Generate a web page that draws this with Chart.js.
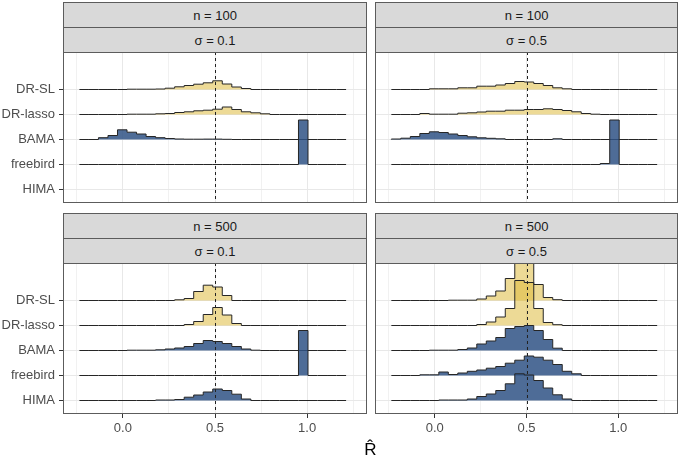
<!DOCTYPE html>
<html><head><meta charset="utf-8">
<script src="https://cdn.jsdelivr.net/npm/chart.js@4.4.0/dist/chart.umd.min.js"></script>
<style>
body{margin:0;background:#fff;width:679px;height:460px;position:relative;overflow:hidden;font-family:'Liberation Sans',Arial,sans-serif}
.strip{position:absolute;background:#D9D9D9;border:1px solid #5c5c5c;box-sizing:border-box;color:#1A1A1A;font-size:13px;display:flex;align-items:center;justify-content:center}
canvas{position:absolute}
#xtitle{position:absolute;left:63px;width:615px;top:440px;text-align:center;font-size:17px;color:#000}
</style></head><body>
<canvas id="c0" width="370" height="190" style="left:0;top:40px"></canvas>
<canvas id="c1" width="309" height="190" style="left:370px;top:40px"></canvas>
<canvas id="c2" width="370" height="209" style="left:0;top:251px"></canvas>
<canvas id="c3" width="309" height="209" style="left:370px;top:251px"></canvas>
<div id="strips"></div>
<div id="xtitle">R̂</div>
<script>
// ---------- data ----------
const methods = ['HIMA', 'freebird', 'BAMA', 'DR-lasso', 'DR-SL']; // bottom -> top
const sampleSizeLabels = ['n = 100', 'n = 100', 'n = 500', 'n = 500'];
const sigmaLabels = ['σ = 0.1', 'σ = 0.5', 'σ = 0.1', 'σ = 0.5'];
const xMajorTicks = [0, 0.5, 1.0];
const xTickLabels = ['0.0', '0.5', '1.0'];
const xMinorTicks = [-0.25, 0.25, 0.75, 1.25];
const refValue = 0.5;
const binStart = -0.236;
const binWidth = 0.0517;
const heightScale = 0.04;

// histogram heights per bin (28 bins)
const n100_s01_DRSL     = [0,0,0,0,0,0.3,0.3,0.3,0.5,1.3,2.7,4,5.3,6.7,8.7,5.5,2.5,1,0,0,0,0,0,0,0,0,0,0];
const n100_s01_DRlasso  = [0,0,0,0,0,0.3,0.3,0.3,0.7,1,2,2.7,3.7,4.3,5.3,7.5,5,2.7,1.7,0.7,0,0,0,0,0,0,0,0];
const n100_s01_BAMA     = [0,0,1.8,4,9.7,7.3,5.5,3,1.8,1,0.5,0.3,0.3,0.4,0.4,0.2,0,0,0,0,0,0,0,0,0,0,0,0];
const n100_s01_freebird = [0,0,0,0,0,0,0,0,0,0,0,0,0,0,0,0,0,0,0,0,0,0,0,44.5,0,0,0,0];

const n100_s05_DRSL     = [0,0,0,0,0.7,0.7,0.7,1.7,1.7,3.3,3.3,4.5,6,8,7.5,6,4,1.7,0.7,0,0,0,0,0,0,0,0,0];
const n100_s05_DRlasso  = [0,0,0,1,0.3,0.3,0.3,1.3,1.7,2.5,3.3,3.3,4.3,4.3,5,5,5.7,5,4,2.7,1,0.3,0,0,0,0,0,0];
const n100_s05_BAMA     = [0.5,1.3,3,6,7.7,7,5.5,4,2.7,1.7,1.2,0.7,0,0,0,0,0,0.7,0,0,0,0,0,0,0,0,0,0];
const n100_s05_freebird = [0,0,0,0,0,0,0,0,0,0,0,0,0,0,0,0,0,0,0,0,0,0,1,44.5,0,0,0,0];

const n500_s01_DRSL     = [0,0,0,0,0,0,0,0,0,0,0.7,2,9,15.3,13.5,5,0,0,0,0,0,0,0,0,0,0,0,0];
const n500_s01_DRlasso  = [0,0,0,0,0,0,0,0,0,0,0,1,4,11,18,10.5,2,0,0,0,0,0,0,0,0,0,0,0];
const n500_s01_BAMA     = [0,0,0,0,0,0.3,0.3,0.3,0.7,1.5,2.5,4,7,10,9,7,4,1.5,0.3,0,0,0,0,0,0,0,0,0];
const n500_s01_freebird = [0,0,0,0,0,0,0,0,0,0,0,0,0,0,0,0,0,0,0,0,0,0,0,45,0,0,0,0];
const n500_s01_HIMA     = [0,0,0,0,0,0,0,0,0.5,0.5,1,3.3,5.5,8.5,11.5,10,6.3,1.5,0,0,0,0,0,0,0,0,0,0];

const n500_s05_DRSL     = [0,0,0,0,0,0,0.3,0.3,0.3,1.5,4.5,9.5,22,37.5,37.5,16,3,0.8,0,0,0,0,0,0,0,0,0,0];
const n500_s05_DRlasso  = [0,0,0,0,0,0,0,0,0,1,3.5,8.5,17,45,43,17,3,0.8,0,0,0,0,0,0,0,0,0,0];
const n500_s05_BAMA     = [0,0,0,0,0.3,0.3,0.3,1,2.5,6.5,9.5,13,22,24,25,20,11,2.3,0,0,0,0,0,0,0,0,0,0];
const n500_s05_freebird = [0,0,0,0.7,0.7,3.5,1,2.5,4.2,5.5,7.3,9,12.3,15.3,19.5,18.3,15.3,11,4.2,1.7,0,0,0,0,0,0,0,0];
const n500_s05_HIMA     = [0,0,0,0,0,0.5,0.5,0.5,1.5,4,6.5,10,16.7,26.7,25.5,20,12.5,5.7,1.5,0,0,0,0,0,0,0,0,0];

const panelSeries = [
  {HIMA: null, freebird: n100_s01_freebird, BAMA: n100_s01_BAMA, 'DR-lasso': n100_s01_DRlasso, 'DR-SL': n100_s01_DRSL},
  {HIMA: null, freebird: n100_s05_freebird, BAMA: n100_s05_BAMA, 'DR-lasso': n100_s05_DRlasso, 'DR-SL': n100_s05_DRSL},
  {HIMA: n500_s01_HIMA, freebird: n500_s01_freebird, BAMA: n500_s01_BAMA, 'DR-lasso': n500_s01_DRlasso, 'DR-SL': n500_s01_DRSL},
  {HIMA: n500_s05_HIMA, freebird: n500_s05_freebird, BAMA: n500_s05_BAMA, 'DR-lasso': n500_s05_DRlasso, 'DR-SL': n500_s05_DRSL}
];

// ---------- style / layout ----------
const yellowFill = 'rgba(222,188,64,0.55)';
const blueFill = 'rgba(47,82,133,0.85)';
const methodFill = {'HIMA': blueFill, 'freebird': blueFill, 'BAMA': blueFill, 'DR-lasso': yellowFill, 'DR-SL': yellowFill};
const FONT = "'Liberation Sans', Arial, sans-serif";

// target plot areas in canvas coordinates
const targetAreas = [
  {left: 63, top: 12, right: 367, bottom: 163},
  {left: 5, top: 12, right: 308, bottom: 163},
  {left: 63, top: 12, right: 367, bottom: 163},
  {left: 5, top: 12, right: 308, bottom: 163}
];

const stripBoxes = [
  {left: 63, width: 304, top: 2},
  {left: 375, width: 303, top: 2},
  {left: 63, width: 304, top: 213},
  {left: 375, width: 303, top: 213}
];
const stripsDiv = document.getElementById('strips');
stripBoxes.forEach((b, i) => {
  const s1 = document.createElement('div');
  s1.className = 'strip';
  s1.style.cssText = `left:${b.left}px;top:${b.top}px;width:${b.width}px;height:26px`;
  s1.textContent = sampleSizeLabels[i];
  const s2 = document.createElement('div');
  s2.className = 'strip';
  s2.style.cssText = `left:${b.left}px;top:${b.top + 25}px;width:${b.width}px;height:26px`;
  s2.textContent = sigmaLabels[i];
  stripsDiv.appendChild(s1);
  stripsDiv.appendChild(s2);
});

function ridgeDataset(name, heights) {
  const base = methods.indexOf(name) + 1;
  const pts = [{x: binStart, y: base}];
  for (let k = 0; k < heights.length; k++) {
    pts.push({x: binStart + k * binWidth, y: base + heights[k] * heightScale});
  }
  pts.push({x: binStart + heights.length * binWidth, y: base});
  return {
    label: name,
    data: pts,
    stepped: 'before',
    borderColor: '#262626',
    borderWidth: 1,
    backgroundColor: methodFill[name],
    fill: {value: base},
    pointRadius: 0,
    borderJoinStyle: 'miter',
    tension: 0
  };
}

const overlayPlugin = {
  id: 'overlay',
  afterDatasetsDraw(chart) {
    const {ctx, chartArea: a, scales} = chart;
    const x = Math.round(scales.x.getPixelForValue(refValue)) + 0.5;
    ctx.save();
    ctx.strokeStyle = '#222';
    ctx.lineWidth = 1;
    ctx.setLineDash([3, 3]);
    ctx.beginPath();
    ctx.moveTo(x, a.top);
    ctx.lineTo(x, a.bottom);
    ctx.stroke();
    ctx.restore();
  },
  afterDraw(chart) {
    const {ctx, chartArea: a} = chart;
    ctx.save();
    ctx.strokeStyle = '#5c5c5c';
    ctx.lineWidth = 1;
    ctx.strokeRect(a.left + 0.5, a.top + 0.5, a.right - a.left - 1, a.bottom - a.top - 1);
    ctx.restore();
  }
};

const allXTicks = [...xMinorTicks, ...xMajorTicks].sort((p, q) => p - q);

function fitArea(chart, t) {
  for (let it = 0; it < 6; it++) {
    const a = chart.chartArea;
    const p = chart.options.layout.padding;
    const dl = t.left - a.left, dt = t.top - a.top, dr = a.right - t.right, db = a.bottom - t.bottom;
    if (Math.abs(dl) + Math.abs(dt) + Math.abs(dr) + Math.abs(db) < 0.5) break;
    p.left += dl; p.top += dt; p.right += dr; p.bottom += db;
    chart.update();
  }
}

function makeChart(idx) {
  const isLeft = idx % 2 === 0;
  const isBottom = idx >= 2;
  const series = panelSeries[idx];
  const datasets = [];
  methods.forEach(m => { if (series[m]) datasets.push(ridgeDataset(m, series[m])); });
  const chart = new Chart(document.getElementById('c' + idx), {
    type: 'line',
    data: {datasets},
    plugins: [overlayPlugin],
    options: {
      responsive: false,
      animation: false,
      devicePixelRatio: 1,
      layout: {padding: {top: 12, right: 2, bottom: isBottom ? 6 : 20, left: 0}},
      plugins: {legend: {display: false}, tooltip: {enabled: false}},
      scales: {
        x: {
          type: 'linear',
          min: -0.325, max: 1.325,
          afterBuildTicks: s => { s.ticks = allXTicks.map(v => ({value: v})); },
          border: {display: false},
          grid: {
            color: c => xMajorTicks.includes(c.tick.value) ? '#E8E8E8' : '#F1F1F1',
            lineWidth: 1,
            drawTicks: isBottom,
            tickLength: 4,
            tickColor: c => xMajorTicks.includes(c.tick.value) ? '#333333' : 'rgba(0,0,0,0)'
          },
          ticks: {
            display: isBottom,
            autoSkip: false,
            maxRotation: 0,
            padding: 3,
            color: '#4D4D4D',
            font: {family: FONT, size: 13},
            callback: v => { const i = xMajorTicks.indexOf(v); return i >= 0 ? xTickLabels[i] : ''; }
          }
        },
        y: {
          type: 'linear',
          min: 0.46, max: 6.5,
          afterBuildTicks: s => { s.ticks = methods.map((m, i) => ({value: i + 1})); },
          border: {display: false},
          grid: {
            color: '#E8E8E8',
            lineWidth: 1,
            drawTicks: isLeft,
            tickLength: 4,
            tickColor: '#333333'
          },
          ticks: {
            display: isLeft,
            autoSkip: false,
            padding: 4,
            color: '#4D4D4D',
            font: {family: FONT, size: 13},
            callback: v => methods[v - 1]
          }
        }
      }
    }
  });
  fitArea(chart, targetAreas[idx]);
}
[0, 1, 2, 3].forEach(makeChart);
</script>
</body></html>
